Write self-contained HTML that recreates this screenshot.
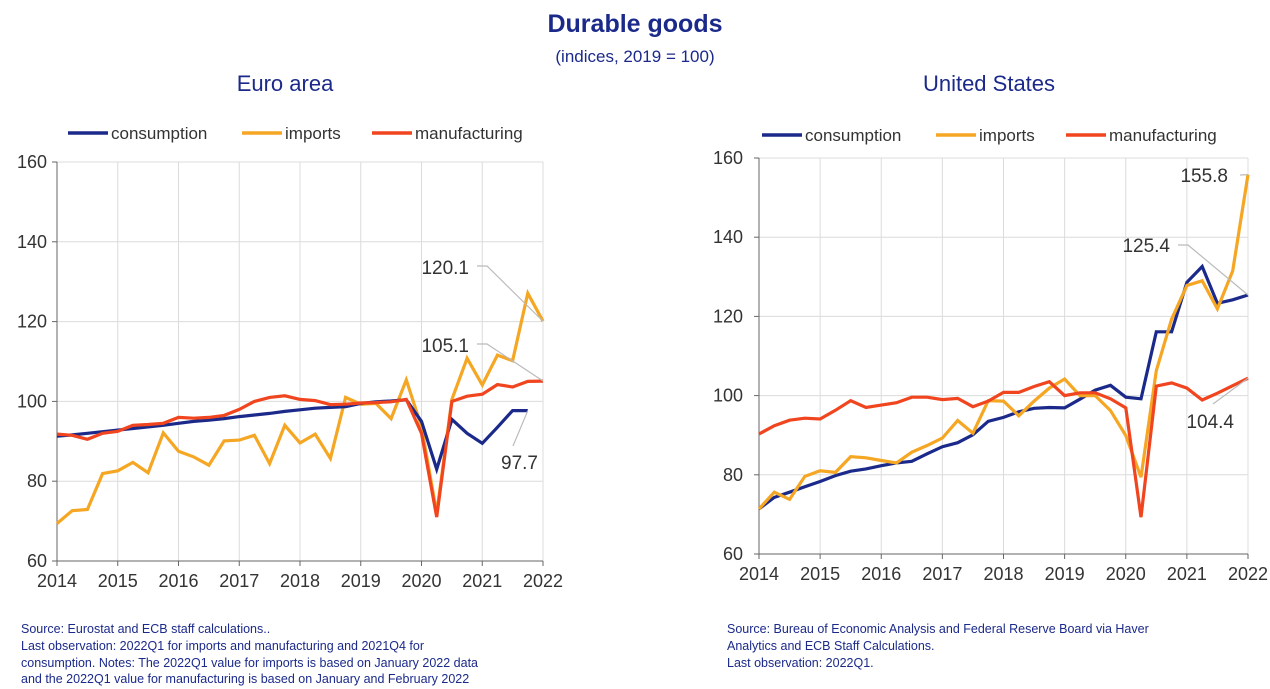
<!DOCTYPE html>
<html><head><meta charset="utf-8">
<style>
html,body{margin:0;padding:0;background:#fff;}
body{width:1270px;height:689px;position:relative;overflow:hidden;font-family:"Liberation Sans",sans-serif;}
.t{position:absolute;white-space:nowrap;}
.src{position:absolute;font-size:12.5px;line-height:16.8px;color:#1b2a8a;}
</style></head>
<body>
<div class="t" style="left:0;width:1270px;text-align:center;top:10px;font-size:25px;font-weight:bold;color:#1b2a8a;">Durable goods</div>
<div class="t" style="left:0;width:1270px;text-align:center;top:47px;font-size:17px;color:#1b2a8a;">(indices, 2019 = 100)</div>
<div class="t" style="left:185px;width:200px;text-align:center;top:71px;font-size:22px;color:#1b2a8a;">Euro area</div>
<div class="t" style="left:889px;width:200px;text-align:center;top:71px;font-size:22px;color:#1b2a8a;">United States</div>
<svg id="svg" width="1270" height="689" style="position:absolute;left:0;top:0"></svg>
<div class="src" style="left:21px;top:621px;">Source: Eurostat and ECB staff calculations..<br>Last observation: 2022Q1 for imports and manufacturing and 2021Q4 for<br>consumption. Notes: The 2022Q1 value for imports is based on January 2022 data<br>and the 2022Q1 value for manufacturing is based on January and February 2022</div>
<div class="src" style="left:727px;top:621px;">Source: Bureau of Economic Analysis and Federal Reserve Board via Haver<br>Analytics and ECB Staff Calculations.<br>Last observation: 2022Q1.</div>
<script>
const yearTicks = ["2014","2015","2016","2017","2018","2019","2020","2021","2022"];
const yTicks = [60,80,100,120,140,160];
const seriesNames = ["consumption","imports","manufacturing"];
const euConsumption = [91.3,91.6,92,92.4,92.8,93.2,93.6,94,94.5,95,95.3,95.7,96.2,96.6,97,97.5,97.9,98.3,98.5,98.7,99.5,99.9,100.1,100.4,95,83,95.5,92,89.5,93.5,97.7,97.7];
const euImports = [69.4,72.6,72.9,81.9,82.6,84.7,82.1,92.1,87.5,86.1,84,90.1,90.3,91.5,84.4,94,89.6,91.8,85.7,101,99.3,99.5,95.7,105.4,93.6,72,100.5,110.8,104.1,111.6,110.2,127.1,120.1];
const euManufacturing = [91.8,91.5,90.5,92,92.5,94,94.2,94.5,96,95.8,96,96.5,98,100,101,101.4,100.5,100.2,99.2,99.3,99.6,99.7,99.9,100.5,92,71,100,101.3,101.8,104.2,103.6,105,105.1];
const usConsumption = [71.4,74.3,75.6,77,78.3,79.8,80.9,81.5,82.3,83,83.4,85.3,87.1,88.1,90.1,93.5,94.5,95.9,96.8,97,96.9,99.1,101.4,102.6,99.6,99.2,116.1,116.1,128.6,132.6,123.3,124.2,125.4];
const usImports = [71.4,75.6,73.8,79.6,81,80.6,84.6,84.3,83.6,83,85.7,87.4,89.3,93.7,90.5,98.7,98.6,94.9,98.6,101.9,104.2,100,100,96.2,89.9,79.4,106.3,119.3,127.8,129,121.9,131.5,155.8];
const usManufacturing = [90.3,92.4,93.8,94.3,94.1,96.3,98.7,97,97.6,98.2,99.6,99.6,99,99.3,97.2,98.6,100.8,100.8,102.3,103.5,100,100.7,100.7,99.2,96.9,69.3,102.4,103.2,101.9,98.9,100.6,102.5,104.4];
const colors = {consumption:"#1b2a8a", imports:"#f5a623", manufacturing:"#f0451e"};
const NS="http://www.w3.org/2000/svg";
const svg=document.getElementById('svg');
function mk(tag,attrs,parent){const e=document.createElementNS(NS,tag);for(const k in attrs)e.setAttribute(k,attrs[k]);(parent||svg).appendChild(e);return e;}

function drawChart(cfg){
  const g=mk('g',{});
  
  
  const xs=i=>cfg.x0+(cfg.x1-cfg.x0)*i/32;
  const ys=v=>cfg.y1-(cfg.y1-cfg.y0)*(v-60)/100;
  yTicks.forEach(v=>{
    const l=mk('line',{x1:cfg.x0,x2:cfg.x1,y1:ys(v),y2:ys(v),stroke:'#dcdcdc','stroke-width':1},g);
    
    
    const t=mk('text',{x:cfg.x0-cfg.yLabOff,y:ys(v)+6,'text-anchor':'end','font-size':18,fill:'#333','font-family':'Liberation Sans, sans-serif'},g);
    t.textContent=v;
    
    
    mk('line',{x1:cfg.x0-5,x2:cfg.x0,y1:ys(v),y2:ys(v),stroke:'#666'},g);
  });
  yearTicks.forEach((yr,k)=>{
    const x=xs(k*4);
    const l=mk('line',{x1:x,x2:x,y1:cfg.y0,y2:cfg.y1,stroke:'#dcdcdc','stroke-width':1},g);
    
    
    mk('line',{x1:x,x2:x,y1:cfg.y1,y2:cfg.y1+5,stroke:'#666'},g);
    const t=mk('text',{x:x,y:cfg.y1+26,'text-anchor':'middle','font-size':18,fill:'#333','font-family':'Liberation Sans, sans-serif'},g);
    t.textContent=yr;
    
    
  });
  mk('line',{x1:cfg.x0,x2:cfg.x0,y1:cfg.y0,y2:cfg.y1,stroke:'#666'},g);
  mk('line',{x1:cfg.x0,x2:cfg.x1,y1:cfg.y1,y2:cfg.y1,stroke:'#666'},g);
  cfg.order.forEach(name=>{
    const d=cfg.data[name];
    const pts=d.map((v,i)=>xs(i).toFixed(1)+','+ys(v).toFixed(1)).join(' ');
    const p=mk('polyline',{points:pts,fill:'none',stroke:colors[name],'stroke-width':3.2,'stroke-linejoin':'miter'},g);
    
    
  });
  let lx=cfg.legX;
  seriesNames.forEach((n,k)=>{
    mk('line',{x1:lx,x2:lx+40,y1:cfg.legY,y2:cfg.legY,stroke:colors[n],'stroke-width':3.5},g);
    const t=mk('text',{x:lx+43,y:cfg.legY+6,'font-size':17,fill:'#333','font-family':'Liberation Sans, sans-serif'},g);
    t.textContent=n;
    
    
    lx+=cfg.legGap[k];
  });
  cfg.labels.forEach(a=>{
    const d=cfg.data[a.s]; const i=d.length-1;
    const px=xs(i), py=ys(d[i]);
    mk('polyline',{points:`${a.lx},${a.ly} ${a.lx+a.dx},${a.ly} ${px},${py}`,fill:'none',stroke:'#bbb','stroke-width':1.2},g);
    const t=mk('text',{x:a.tx,y:a.ty,'text-anchor':'end','font-size':19,fill:'#333','font-family':'Liberation Sans, sans-serif'},g);
    t.textContent=d[i].toFixed(1);
    
    
  });
}
drawChart({id:'eu',x0:57,x1:543,y0:162,y1:561,yLabOff:10,legX:68,legY:133,legGap:[174,130,0],
  order:['imports','consumption','manufacturing'],
  data:{consumption:euConsumption,imports:euImports,manufacturing:euManufacturing},
  labels:[{s:'imports',lx:477,ly:266,dx:10,tx:469,ty:274},{s:'manufacturing',lx:477,ly:344,dx:10,tx:469,ty:352},{s:'consumption',lx:513,ly:446,dx:0,tx:538,ty:469}]});
drawChart({id:'us',x0:759,x1:1248,y0:158,y1:554,yLabOff:16,legX:762,legY:135,legGap:[174,130,0],
  order:['consumption','imports','manufacturing'],
  data:{consumption:usConsumption,imports:usImports,manufacturing:usManufacturing},
  labels:[{s:'imports',lx:1240,ly:175,dx:0,tx:1228,ty:182},{s:'consumption',lx:1178,ly:245,dx:10,tx:1170,ty:252},{s:'manufacturing',lx:1213,ly:404,dx:0,tx:1234,ty:428}]});
</script>
</body></html>
